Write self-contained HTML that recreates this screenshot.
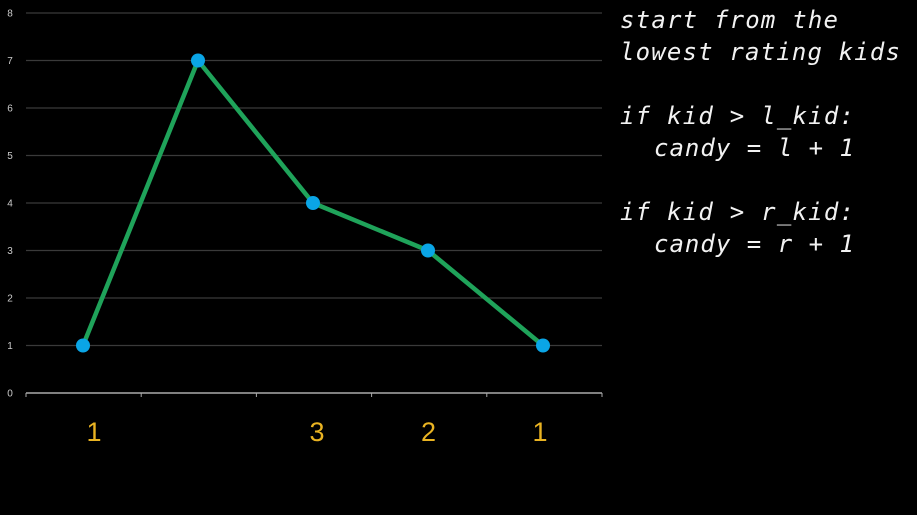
<!DOCTYPE html>
<html><head><meta charset="utf-8"><style>
html,body{margin:0;padding:0;background:#000;width:917px;height:515px;overflow:hidden}
svg{display:block}
</style></head><body>
<svg width="917" height="515">
<g id="grid"></g>
<g id="axis"></g>
<g id="series"></g>
<g id="xlabels"></g>
<g font-family="DejaVu Sans Mono, Liberation Mono, monospace" font-style="italic" font-size="24" fill="#f2f2f2">
<text x="620" y="28" textLength="218">start from the</text>
<text x="620" y="60" textLength="280">lowest rating kids</text>
<text x="620" y="124" textLength="234">if kid &gt; l_kid:</text>
<text x="654" y="156" textLength="200">candy = l + 1</text>
<text x="620" y="220" textLength="234">if kid &gt; r_kid:</text>
<text x="654" y="252" textLength="200">candy = r + 1</text>
</g>
</svg>
<script>
const yTicks=[0,1,2,3,4,5,6,7,8];
const candies=[1,7,4,3,1];
const ratingLabels=["1","","3","2","1"];
const NS="http://www.w3.org/2000/svg";
const y=v=>393-47.5*v;
const x=i=>83+115*i;
function mk(t,a,p){const e=document.createElementNS(NS,t);for(const k in a)e.setAttribute(k,a[k]);p.appendChild(e);return e;}
const grid=document.getElementById('grid');
yTicks.forEach(v=>{
  if(v>0){const l=mk('line',{x1:26,x2:602,y1:y(v),y2:y(v),stroke:'#3a3a3a','stroke-width':1.2},grid);
  
  }
  const t=mk('text',{x:10,y:y(v)+3.5,fill:'#ccc','font-size':10,'font-family':'Liberation Sans, sans-serif','text-anchor':'middle'},grid);
  t.textContent=v;
  
  
});
const ax=document.getElementById('axis');
const al=mk('line',{x1:26,x2:602,y1:393,y2:393,stroke:'#aaa','stroke-width':1.5},ax);


for(let i=0;i<=candies.length;i++){const tx=26+115.2*i;
  const tk=mk('line',{x1:tx,x2:tx,y1:393,y2:397,stroke:'#aaa','stroke-width':1},ax);
  
  }
const s=document.getElementById('series');
const pl=mk('polyline',{points:candies.map((v,i)=>x(i)+','+y(v)).join(' '),fill:'none',stroke:'#1fa35a','stroke-width':4.5,'stroke-linejoin':'round'},s);


candies.forEach((v,i)=>{const c=mk('circle',{cx:x(i),cy:y(v),r:7,fill:'#0aa5e6'},s);
  
  });
const xl=document.getElementById('xlabels');
ratingLabels.forEach((r,i)=>{const t=mk('text',{x:x(i)+11-3.5*i,y:441,fill:'#e9b322','font-size':27,'font-family':'Liberation Sans, sans-serif','text-anchor':'middle'},xl);
  t.textContent=r;
  
  });
</script>
</body></html>
